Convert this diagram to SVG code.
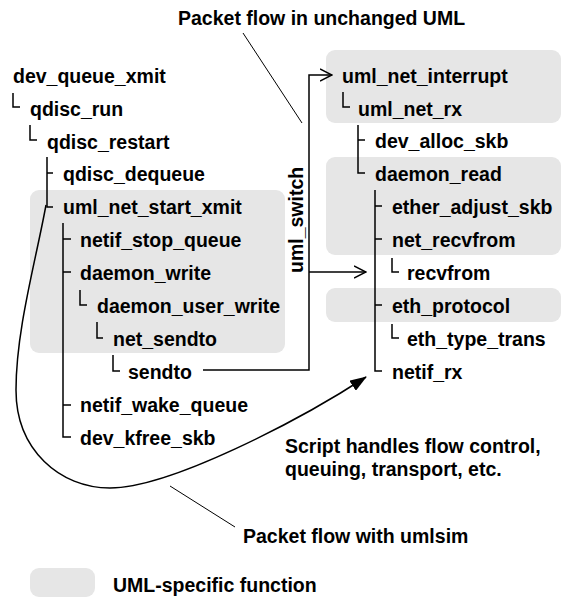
<svg xmlns="http://www.w3.org/2000/svg" width="563" height="598" viewBox="0 0 563 598">
<style>
text{font-family:"Liberation Sans",Arial,sans-serif;font-weight:bold;font-size:19.5px;fill:#000}
.box{fill:#e6e6e6;stroke:none}
.tree{fill:none;stroke:#000;stroke-width:1.5}
.flow{fill:none;stroke:#000;stroke-width:1.5}
.lead{fill:none;stroke:#000;stroke-width:1}
</style>
<defs>
<marker id="open" markerUnits="userSpaceOnUse" viewBox="0 0 13 14" refX="12" refY="7" markerWidth="13" markerHeight="14" orient="auto">
<path d="M0,1 L12,7 L0,13" fill="none" stroke="#000" stroke-width="1.5"/>
</marker>
<marker id="solid" markerUnits="userSpaceOnUse" viewBox="0 0 17 12" refX="16" refY="6" markerWidth="17" markerHeight="12" orient="auto">
<path d="M0,0 L17,6 L0,12 z" fill="#000"/>
</marker>
</defs>
<g id="highlights">
<rect class="box" x="30" y="190" width="255" height="163" rx="9"/>
<rect class="box" x="326" y="50" width="235" height="73" rx="9"/>
<rect class="box" x="326" y="157" width="235" height="98" rx="9"/>
<rect class="box" x="326" y="288" width="235" height="34" rx="9"/>
</g>
<g id="connectors">
<path class="tree" d="M13,93 V107 H20"/>
<path class="tree" d="M30,125 V140 H37"/>
<path class="tree" d="M47,157 V207 H53 M47,173 H53"/>
<path class="tree" d="M63,223 V437 H71 M63,239 H71 M63,272 H71 M63,405 H71"/>
<path class="tree" d="M80,290 V305 H87"/>
<path class="tree" d="M97,322 V338 H103"/>
<path class="tree" d="M113,355 V371 H120"/>
<path class="tree" d="M343,92 V107 H350"/>
<path class="tree" d="M358,125 V173 H365 M358,140 H365"/>
<path class="tree" d="M375,190 V371 H382 M375,206 H382 M375,239 H382 M375,305 H382"/>
<path class="tree" d="M392,258 V272 H399"/>
<path class="tree" d="M392,324 V338 H399"/>
<path class="flow" d="M203,370 H309 V75 H332" marker-end="url(#open)"/>
<path class="flow" d="M309,272 H366" marker-end="url(#open)"/>
<path class="flow" d="M46,205 C36,260 16,330 16,390 C16,450 60,488 110,488 C170,488 300,420 366,377" marker-end="url(#solid)"/>
<path class="lead" d="M243,33 L302,123"/>
<path class="lead" d="M170,486 L235,527"/>
</g>
<g id="n-dev_queue_xmit"><text x="13" y="83">dev_queue_xmit</text></g>
<g id="n-qdisc_run"><text x="30" y="116">qdisc_run</text></g>
<g id="n-qdisc_restart"><text x="47" y="149">qdisc_restart</text></g>
<g id="n-qdisc_dequeue"><text x="63" y="181">qdisc_dequeue</text></g>
<g id="n-uml_net_start_xmit"><text x="63" y="214">uml_net_start_xmit</text></g>
<g id="n-netif_stop_queue"><text x="80" y="247">netif_stop_queue</text></g>
<g id="n-daemon_write"><text x="80" y="280">daemon_write</text></g>
<g id="n-daemon_user_write"><text x="97" y="313">daemon_user_write</text></g>
<g id="n-net_sendto"><text x="113" y="346">net_sendto</text></g>
<g id="n-sendto"><text x="128" y="379">sendto</text></g>
<g id="n-netif_wake_queue"><text x="80" y="412">netif_wake_queue</text></g>
<g id="n-dev_kfree_skb"><text x="80" y="445">dev_kfree_skb</text></g>
<g id="n-uml_switch"><text transform="translate(303,273) rotate(-90)">uml_switch</text></g>
<g id="n-uml_net_interrupt"><text x="342" y="83">uml_net_interrupt</text></g>
<g id="n-uml_net_rx"><text x="358" y="116">uml_net_rx</text></g>
<g id="n-dev_alloc_skb"><text x="375" y="148">dev_alloc_skb</text></g>
<g id="n-daemon_read"><text x="375" y="181">daemon_read</text></g>
<g id="n-ether_adjust_skb"><text x="392" y="214">ether_adjust_skb</text></g>
<g id="n-net_recvfrom"><text x="392" y="247">net_recvfrom</text></g>
<g id="n-recvfrom"><text x="407" y="280">recvfrom</text></g>
<g id="n-eth_protocol"><text x="392" y="313">eth_protocol</text></g>
<g id="n-eth_type_trans"><text x="407" y="346">eth_type_trans</text></g>
<g id="n-netif_rx"><text x="392" y="379">netif_rx</text></g>
<g id="labels">
<text x="178" y="25">Packet flow in unchanged UML</text>
<text x="285" y="453">Script handles flow control,</text>
<text x="285" y="476">queuing, transport, etc.</text>
<text x="243" y="543">Packet flow with umlsim</text>
</g>
<g id="legend">
<rect class="box" x="30" y="568" width="65" height="29" rx="9"/>
<text x="113" y="592">UML-specific function</text>
</g>
</svg>
